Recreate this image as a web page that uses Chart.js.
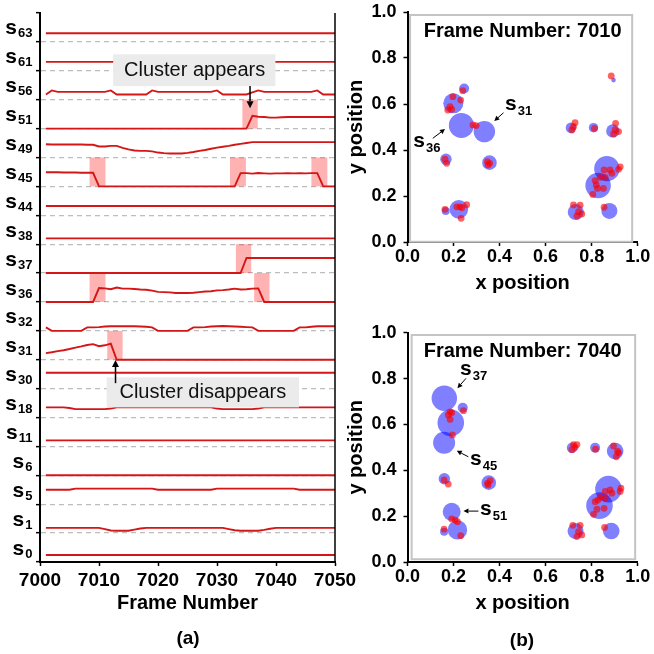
<!DOCTYPE html>
<html><head><meta charset="utf-8">
<script src="https://cdn.jsdelivr.net/npm/chart.js@4.4.1/dist/chart.umd.min.js"></script>
<style>
html,body{margin:0;padding:0;background:#fff;}
#wrap{position:relative;width:654px;height:654px;overflow:hidden;background:#fff;}
canvas{position:absolute;}
</style></head><body>
<div id="wrap">
<canvas id="cA" width="654" height="654" style="left:0;top:0;width:654px;height:654px"></canvas>
<canvas id="cB1" width="314" height="300" style="left:340px;top:0;width:314px;height:300px"></canvas>
<canvas id="cB2" width="314" height="334" style="left:340px;top:320px;width:314px;height:334px"></canvas>
</div>
<script>
// ================= Panel (a) data =================
const frames = [7001,7002,7003,7004,7005,7006,7007,7008,7009,7010,
                7011,7012,7013,7014,7015,7016,7017,7018,7019,7020,
                7021,7022,7023,7024,7025,7026,7027,7028,7029,7030,
                7031,7032,7033,7034,7035,7036,7037,7038,7039,7040,
                7041,7042,7043,7044,7045,7046,7047,7048,7049,7050];
const flatFrames = [7001, 7050];
// rows, top to bottom
const rowNames = ['63','61','56','51','49','45','44','38','37','36','32','31','30','18','11','6','5','1','0'];

// values = offset of each track inside its own row (0..1)
const s63 = [0.30, 0.30];
const s61 = [0.31, 0.31];
const s56 = [0.18,0.32,0.27,0.27,0.27,0.27,0.27,0.27,0.27,0.27,
             0.27,0.32,0.18,0.18,0.18,0.18,0.18,0.18,0.32,0.27,
             0.27,0.27,0.27,0.27,0.27,0.27,0.27,0.27,0.27,0.32,
             0.18,0.18,0.18,0.18,0.18,0.25,0.32,0.27,0.27,0.27,
             0.27,0.27,0.27,0.27,0.27,0.27,0.32,0.18,0.18,0.18];
const s51 = [0,0,0,0,0,0,0,0,0,0,
             0,0,0,0,0,0,0,0,0,0,
             0,0,0,0,0,0,0,0,0,0,
             0,0,0,0,0,0.44,0.41,0.40,0.38,0.38,
             0.39,0.40,0.40,0.40,0.40,0.40,0.40,0.40,0.40,0.40];
const s49 = [0.46,0.45,0.45,0.45,0.45,0.45,0.45,0.44,0.44,0.38,
             0.38,0.40,0.40,0.33,0.28,0.24,0.23,0.23,0.21,0.17,
             0.15,0.14,0.14,0.14,0.16,0.19,0.23,0.26,0.30,0.34,
             0.37,0.40,0.44,0.47,0.50,0.53,0.53,0.53,0.53,0.53,
             0.53,0.53,0.53,0.53,0.53,0.53,0.53,0.53,0.53,0.53];
const s45 = [0.49,0.49,0.49,0.48,0.48,0.48,0.47,0.47,0.47,0,
             0,0,0,0,0,0,0,0,0,0,
             0,0,0,0,0,0,0,0,0,0,
             0,0,0,0.46,0.46,0.44,0.46,0.45,0.44,0.45,
             0.45,0.46,0.45,0.46,0.45,0.46,0.46,0,0,0];
const s44 = [0.32, 0.32];
const s38 = [0.20, 0.20];
const s37 = [0,0,0,0,0,0,0,0,0,0,
             0,0,0,0,0,0,0,0,0,0,
             0,0,0,0,0,0,0,0,0,0,
             0,0,0,0,0.52,0.52,0.52,0.52,0.52,0.52,
             0.52,0.52,0.52,0.52,0.52,0.52,0.52,0.52,0.52,0.52];
const s36 = [0,0,0,0,0,0,0,0,0,0.48,
             0.47,0.44,0.50,0.46,0.46,0.45,0.43,0.42,0.39,0.35,
             0.34,0.33,0.31,0.31,0.31,0.32,0.34,0.36,0.37,0.40,
             0.41,0.43,0.46,0.43,0.44,0.46,0.47,0,0,0,
             0,0,0,0,0,0,0,0,0,0];
const s32 = [0.12,0,0,0,0,0,0,0.12,0.12,0.13,
             0.15,0.16,0.16,0.16,0.16,0.16,0.15,0.14,0.12,0,
             0,0,0,0,0,0.12,0.12,0.13,0.15,0.16,
             0.17,0.16,0.15,0.14,0.13,0.12,0,0,0,0,
             0,0,0,0.12,0.12,0.14,0.16,0.16,0.16,0.16];
const s31 = [0.23,0.26,0.30,0.33,0.37,0.42,0.46,0.51,0.54,0.47,
             0.50,0.56,0,0,0,0,0,0,0,0,
             0,0,0,0,0,0,0,0,0,0,
             0,0,0,0,0,0,0,0,0,0,
             0,0,0,0,0,0,0,0,0,0];
const s30 = [0.55, 0.55];
const s18 = [0.35,0.35,0.35,0.35,0.33,0.29,0.29,0.29,0.29,0.29,
             0.29,0.31,0.35,0.35,0.35,0.35,0.35,0.35,0.35,0.35,
             0.35,0.35,0.35,0.35,0.35,0.35,0.35,0.35,0.35,0.31,
             0.29,0.29,0.29,0.29,0.29,0.29,0.31,0.35,0.35,0.35,
             0.35,0.35,0.35,0.35,0.35,0.35,0.35,0.35,0.35,0.35];
const s11 = [0.21, 0.21];
const s6  = [0.0, 0.0];
const s5  = [0.50,0.50,0.50,0.50,0.50,0.54,0.54,0.54,0.54,0.54,
             0.54,0.54,0.54,0.54,0.54,0.54,0.54,0.54,0.54,0.50,
             0.50,0.50,0.50,0.50,0.50,0.50,0.50,0.50,0.50,0.54,
             0.54,0.54,0.54,0.54,0.54,0.54,0.54,0.54,0.54,0.54,
             0.54,0.54,0.54,0.50,0.50,0.50,0.50,0.50,0.50,0.50];
const s1  = [0.18,0.18,0.18,0.18,0.18,0.18,0.18,0.18,0.18,0.18,
             0.14,0.09,0.08,0.08,0.08,0.12,0.16,0.18,0.18,0.18,
             0.18,0.18,0.18,0.18,0.18,0.18,0.18,0.18,0.18,0.18,
             0.18,0.14,0.10,0.08,0.08,0.08,0.08,0.11,0.15,0.18,
             0.18,0.18,0.18,0.18,0.18,0.18,0.18,0.18,0.18,0.18];
const s0  = [0.24, 0.24];

// highlighted transitions (frame ranges) per track
const pinkSeries = ['51','45','45','45','37','36','36','31'];
const pinkStart  = [7034.3,7008.4,7032.2,7046.0,7033.2,7008.4,7036.3,7011.4];
const pinkEnd    = [7036.9,7011.1,7034.9,7048.7,7035.8,7011.1,7038.9,7014.0];

// ================= Panel (b) data =================
const blueX7010 = [0.199,0.246,0.234,0.334,0.167,0.356,0.166,0.223,0.895,0.710,0.808,0.892,0.866,0.828,0.731,0.877];
const blueY7010 = [0.603,0.667,0.507,0.480,0.360,0.345,0.135,0.142,0.704,0.497,0.497,0.483,0.319,0.246,0.130,0.135];
const blueR7010 = [0.0435,0.0217,0.0543,0.0465,0.0248,0.0317,0.0174,0.0404,0.0100,0.0230,0.0204,0.0291,0.0552,0.0552,0.0348,0.0348];
const redX7010 = [0.240,0.197,0.231,0.185,0.175,0.192, 0.284,0.298, 0.163,0.170, 0.347,0.357,0.350,
                  0.163,0.214,0.228,0.257,0.236,0.233, 0.885, 0.728,0.721,0.714, 0.812,
                  0.904,0.902,0.917,0.895, 0.924,0.917,0.880,0.888,0.854,
                  0.837,0.859,0.815,0.820,0.851,0.825,0.805, 0.721,0.750,0.743,0.736,0.757, 0.854];
const redY7010 = [0.658,0.632,0.617,0.588,0.574,0.577, 0.509,0.506, 0.360,0.342, 0.349,0.342,0.335,
                  0.142,0.153,0.153,0.162,0.149,0.103, 0.722, 0.519,0.501,0.487, 0.494,
                  0.516,0.487,0.480,0.470, 0.327,0.316,0.313,0.299,0.313,
                  0.281,0.281,0.267,0.248,0.233,0.233,0.207, 0.161,0.160,0.132,0.113,0.122, 0.151];

const blueX7040 = [0.160,0.240,0.188,0.159,0.160,0.353,0.192,0.217,0.159,0.715,0.815,0.902,0.873,0.834,0.730,0.885];
const blueY7040 = [0.714,0.673,0.607,0.520,0.363,0.346,0.219,0.140,0.132,0.498,0.498,0.484,0.318,0.246,0.135,0.135];
const blueR7040 = [0.0552,0.0217,0.0578,0.0478,0.0248,0.0317,0.0391,0.0422,0.0174,0.0230,0.0217,0.0361,0.0578,0.0578,0.0348,0.0361];
const redX7040 = [0.185,0.177,0.192,0.185, 0.243, 0.195, 0.159,0.177, 0.347,0.359,0.350, 0.192,0.207,0.217,
                  0.159, 0.231, 0.721,0.736,0.714,0.728, 0.817, 0.895,0.912,0.917,0.907, 0.927,0.924,
                  0.880,0.888,0.859, 0.837,0.859, 0.815,0.827, 0.854,0.823, 0.808, 0.718,0.750,0.743,0.736,0.757, 0.856];
const redY7040 = [0.655,0.641,0.651,0.622, 0.660, 0.554, 0.358,0.340, 0.343,0.355,0.336, 0.188,0.183,0.176,
                  0.143, 0.115, 0.512,0.512,0.490,0.500, 0.492, 0.506,0.483,0.476,0.459, 0.322,0.308,
                  0.314,0.300,0.308, 0.282,0.278, 0.263,0.270, 0.234,0.230, 0.208, 0.160,0.160,0.132,0.111,0.118, 0.151];

// ================= common =================
const FONT = "'Liberation Sans', Arial, Helvetica, sans-serif";
Chart.defaults.font.family = FONT;
Chart.defaults.color = '#000';
const LINE_RED = 'rgb(212,22,22)';

function arrow(ctx, x1, y1, x2, y2, head, width, lw) {
  const a = Math.atan2(y2 - y1, x2 - x1);
  const bx = x2 - head * Math.cos(a), by = y2 - head * Math.sin(a);
  ctx.save();
  ctx.strokeStyle = '#000'; ctx.fillStyle = '#000'; ctx.lineWidth = lw;
  ctx.beginPath(); ctx.moveTo(x1, y1); ctx.lineTo(bx, by); ctx.stroke();
  ctx.beginPath();
  ctx.moveTo(x2, y2);
  ctx.lineTo(bx + width / 2 * Math.sin(a), by - width / 2 * Math.cos(a));
  ctx.lineTo(bx - width / 2 * Math.sin(a), by + width / 2 * Math.cos(a));
  ctx.closePath(); ctx.fill();
  ctx.restore();
}
function subLabel(ctx, x, y, main, sub, mainSize, subSize, drop, align) {
  ctx.save();
  ctx.fillStyle = '#000';
  ctx.textBaseline = 'alphabetic';
  ctx.textAlign = 'left';
  ctx.font = 'bold ' + mainSize + 'px ' + FONT;
  const w1 = ctx.measureText(main).width;
  ctx.font = 'bold ' + subSize + 'px ' + FONT;
  const w2 = ctx.measureText(sub).width;
  const x0 = align === 'right' ? x - w1 - w2 - 1 : x;
  ctx.font = 'bold ' + mainSize + 'px ' + FONT;
  ctx.fillText(main, x0, y);
  ctx.font = 'bold ' + subSize + 'px ' + FONT;
  ctx.fillText(sub, x0 + w1 + 1, y + drop);
  ctx.restore();
}
const noPadY = s => { s.paddingTop = 0; s.paddingBottom = 0; };
const noPadX = s => { s.paddingLeft = 0; s.paddingRight = 0; };

// ================= Panel (a) =================
const seriesByName = {'63':s63,'61':s61,'56':s56,'51':s51,'49':s49,'45':s45,'44':s44,'38':s38,'37':s37,
  '36':s36,'32':s32,'31':s31,'30':s30,'18':s18,'11':s11,'6':s6,'5':s5,'1':s1,'0':s0};
const nRows = rowNames.length;
const rowBase = name => nRows - 1 - rowNames.indexOf(name);

const aDatasets = rowNames.map(name => {
  const vals = seriesByName[name];
  const fx = vals.length === 2 ? flatFrames : frames;
  const base = rowBase(name);
  return {
    label: 's' + name,
    data: vals.map((v, k) => ({x: fx[k], y: base + v})),
    borderColor: LINE_RED, borderWidth: 1.9, pointRadius: 0, tension: 0, fill: false
  };
});

const leftDecor = {
  id: 'leftDecor',
  beforeDatasetsDraw(chart) {
    const {ctx, scales: {x, y}} = chart;
    ctx.save();
    ctx.fillStyle = 'rgba(255,0,0,0.30)';
    pinkSeries.forEach((name, i) => {
      const b = rowBase(name);
      const px0 = x.getPixelForValue(pinkStart[i]), px1 = x.getPixelForValue(pinkEnd[i]);
      const py0 = y.getPixelForValue(b + 1), py1 = y.getPixelForValue(b);
      ctx.fillRect(px0, py0, px1 - px0, py1 - py0);
    });
    ctx.restore();
  },
  afterDatasetsDraw(chart) {
    const {ctx, scales: {x, y}, chartArea} = chart;
    ctx.save();
    ctx.strokeStyle = '#000'; ctx.lineWidth = 1.5;
    ctx.beginPath(); ctx.moveTo(chartArea.right, chartArea.top); ctx.lineTo(chartArea.right, chartArea.bottom); ctx.stroke();
    ctx.restore();
    const boxes = [
      {x0: 7012.4, x1: 7039.9, y0: 16.47, y1: 17.57, tx: 7026.2, ty: 17.0, text: 'Cluster appears',
       ax: 7035.6, ay0: 16.47, ay1: 15.70},
      {x0: 7011.3, x1: 7043.9, y0: 5.35, y1: 6.39, tx: 7027.6, ty: 5.86, text: 'Cluster disappears',
       ax: 7012.8, ay0: 6.19, ay1: 6.99}
    ];
    boxes.forEach(b => {
      const X0 = x.getPixelForValue(b.x0), X1 = x.getPixelForValue(b.x1);
      const Y0 = y.getPixelForValue(b.y1), Y1 = y.getPixelForValue(b.y0);
      ctx.save();
      ctx.fillStyle = '#ebebeb';
      ctx.fillRect(X0, Y0, X1 - X0, Y1 - Y0);
      ctx.fillStyle = '#111';
      ctx.font = '20px ' + FONT;
      ctx.textAlign = 'center'; ctx.textBaseline = 'middle';
      ctx.fillText(b.text, x.getPixelForValue(b.tx), y.getPixelForValue(b.ty));
      ctx.restore();
      arrow(ctx, x.getPixelForValue(b.ax), y.getPixelForValue(b.ay0), x.getPixelForValue(b.ax), y.getPixelForValue(b.ay1), 7, 7, 1.5);
    });
  },
  afterDraw(chart) {
    const {ctx, scales: {y}} = chart;
    rowNames.forEach(name => {
      const cy = y.getPixelForValue(rowBase(name) + 0.5);
      subLabel(ctx, 32.5, cy + 7, 's', name, 21, 13, 3, 'right');
    });
    ctx.save();
    ctx.fillStyle = '#000';
    ctx.font = 'bold 19px ' + FONT;
    ctx.textAlign = 'center'; ctx.textBaseline = 'middle';
    ctx.fillText('(a)', 188, 639);
    ctx.restore();
  }
};

new Chart(document.getElementById('cA'), {
  type: 'line',
  data: {datasets: aDatasets},
  options: {
    responsive: false, animation: false, devicePixelRatio: 1,
    layout: {padding: {top: 13, right: 319, bottom: 0, left: 0}},
    plugins: {legend: {display: false}, tooltip: {enabled: false}},
    scales: {
      x: {
        type: 'linear', min: 7000, max: 7050,
        ticks: {stepSize: 10, font: {size: 19, weight: 'bold'}, color: '#000', padding: 3, maxRotation: 0, callback: v => String(v)},
        grid: {drawOnChartArea: false, drawTicks: true, tickLength: 4, tickColor: '#000', tickWidth: 1.5},
        border: {display: true, color: '#000', width: 2},
        title: {display: true, text: 'Frame Number', font: {size: 20, weight: 'bold'}, color: '#000', padding: {top: 0, bottom: 39}},
        afterFit: s => { s.height = 92; noPadX(s); }
      },
      y: {
        type: 'linear', min: 0, max: 19,
        ticks: {stepSize: 1, autoSkip: false, callback: () => ''},
        grid: {
          color: c => (c.tick && (c.tick.value === 0 || c.tick.value === 19)) ? 'rgba(0,0,0,0)' : '#bdbdbd',
          lineWidth: 1.3, tickColor: '#000', tickLength: 4, tickWidth: 1.5
        },
        border: {display: true, color: '#000', width: 2, dash: [5, 4]},
        afterFit: s => { s.width = 40; noPadY(s); }
      }
    }
  },
  plugins: [leftDecor]
});

// ================= Panel (b) =================
const frameDecor = {
  id: 'frameDecor',
  beforeDatasetsDraw(chart, args, o) {
    const {ctx, scales: {x, y}} = chart;
    ctx.save();
    ctx.strokeStyle = '#c4c4c4'; ctx.lineWidth = 2;
    const X0 = x.getPixelForValue(o.box[0]), X1 = x.getPixelForValue(o.box[2]);
    const Y0 = y.getPixelForValue(o.box[3]), Y1 = y.getPixelForValue(o.box[1]);
    ctx.strokeRect(X0, Y0, X1 - X0, Y1 - Y0);
    ctx.restore();
  },
  afterDatasetsDraw(chart, args, o) {
    const {ctx, scales: {x, y}} = chart;
    ctx.save();
    ctx.fillStyle = '#000';
    ctx.font = 'bold 20px ' + FONT;
    ctx.textAlign = 'center'; ctx.textBaseline = 'middle';
    ctx.fillText(o.title, x.getPixelForValue(0.5), y.getPixelForValue(o.titleY));
    ctx.restore();
    o.labels.forEach(l => subLabel(ctx, x.getPixelForValue(l.x), y.getPixelForValue(l.y), 's', l.sub, 21, 13, 5, 'left'));
    o.arrows.forEach(a => arrow(ctx, x.getPixelForValue(a[0]), y.getPixelForValue(a[1]), x.getPixelForValue(a[2]), y.getPixelForValue(a[3]), 5, 5, 1));
  },
  afterDraw(chart, args, o) {
    if (!o.caption) return;
    const {ctx} = chart;
    ctx.save();
    ctx.fillStyle = '#000';
    ctx.font = 'bold 19px ' + FONT;
    ctx.textAlign = 'center'; ctx.textBaseline = 'middle';
    ctx.fillText(o.caption, o.captionPos[0], o.captionPos[1]);
    ctx.restore();
  }
};

function bubbleChart(id, bx, by, br, rx, ry, padTop, axisH, titlePadBottom, decor) {
  const radiusOf = c => {
    const sx = c.chart.scales.x;
    return br[c.dataIndex] * (sx.getPixelForValue(1) - sx.getPixelForValue(0));
  };
  return new Chart(document.getElementById(id), {
    type: 'scatter',
    data: {
      datasets: [
        {
          data: rx.map((v, i) => ({x: v, y: ry[i]})),
          backgroundColor: 'rgba(255,0,0,0.62)', borderWidth: 0, pointRadius: 3.4, pointHoverRadius: 3.4
        },
        {
          data: bx.map((v, i) => ({x: v, y: by[i]})),
          backgroundColor: 'rgba(0,0,255,0.5)', borderWidth: 0,
          pointRadius: radiusOf, pointHoverRadius: radiusOf
        }
      ]
    },
    options: {
      responsive: false, animation: false, devicePixelRatio: 1,
      layout: {padding: {top: padTop, right: 16.3, bottom: 0, left: 0}},
      plugins: {legend: {display: false}, tooltip: {enabled: false}, frameDecor: decor},
      scales: {
        x: {
          type: 'linear', min: 0, max: 1,
          ticks: {stepSize: 0.2, font: {size: 18, weight: 'bold'}, color: '#000', padding: 0, maxRotation: 0, callback: v => v.toFixed(1)},
          grid: {drawOnChartArea: false, drawTicks: true, tickLength: 4, tickColor: '#000', tickWidth: 1.5},
          border: {display: true, color: '#000', width: 2},
          title: {display: true, text: 'x position', font: {size: 20, weight: 'bold'}, color: '#000', padding: {top: 0, bottom: titlePadBottom}},
          afterFit: s => { s.height = axisH; noPadX(s); }
        },
        y: {
          type: 'linear', min: 0, max: 1,
          ticks: {stepSize: 0.2, font: {size: 18, weight: 'bold'}, color: '#000', padding: 7, callback: v => v.toFixed(1)},
          grid: {drawOnChartArea: false, drawTicks: true, tickLength: 4, tickColor: '#000', tickWidth: 1.5},
          border: {display: true, color: '#000', width: 2},
          title: {display: true, text: 'y position', font: {size: 20, weight: 'bold'}, color: '#000', padding: {top: 4, bottom: 0}},
          afterFit: s => { s.width = 67.5; noPadY(s); }
        }
      }
    },
    plugins: [frameDecor]
  });
}

bubbleChart('cB1', blueX7010, blueY7010, blueR7010, redX7010, redY7010, 12, 58, 4.7, {
  title: 'Frame Number: 7010', titleY: 0.914,
  box: [0.011, 0.001, 0.976, 0.987],
  labels: [{x: 0.025, y: 0.414, sub: '36'}, {x: 0.424, y: 0.574, sub: '31'}],
  arrows: [[0.110, 0.451, 0.163, 0.491], [0.417, 0.562, 0.377, 0.526]]
});

bubbleChart('cB2', blueX7040, blueY7040, blueR7040, redX7040, redY7040, 12.7, 92, 38.7, {
  title: 'Frame Number: 7040', titleY: 0.917,
  box: [0.018, 0.012, 0.989, 0.990],
  labels: [{x: 0.228, y: 0.816, sub: '37'}, {x: 0.272, y: 0.423, sub: '45'}, {x: 0.315, y: 0.205, sub: '51'}],
  arrows: [[0.254, 0.801, 0.217, 0.758], [0.264, 0.459, 0.214, 0.485], [0.308, 0.222, 0.243, 0.222]],
  caption: '(b)', captionPos: [182, 321]
});
</script>
</body></html>
